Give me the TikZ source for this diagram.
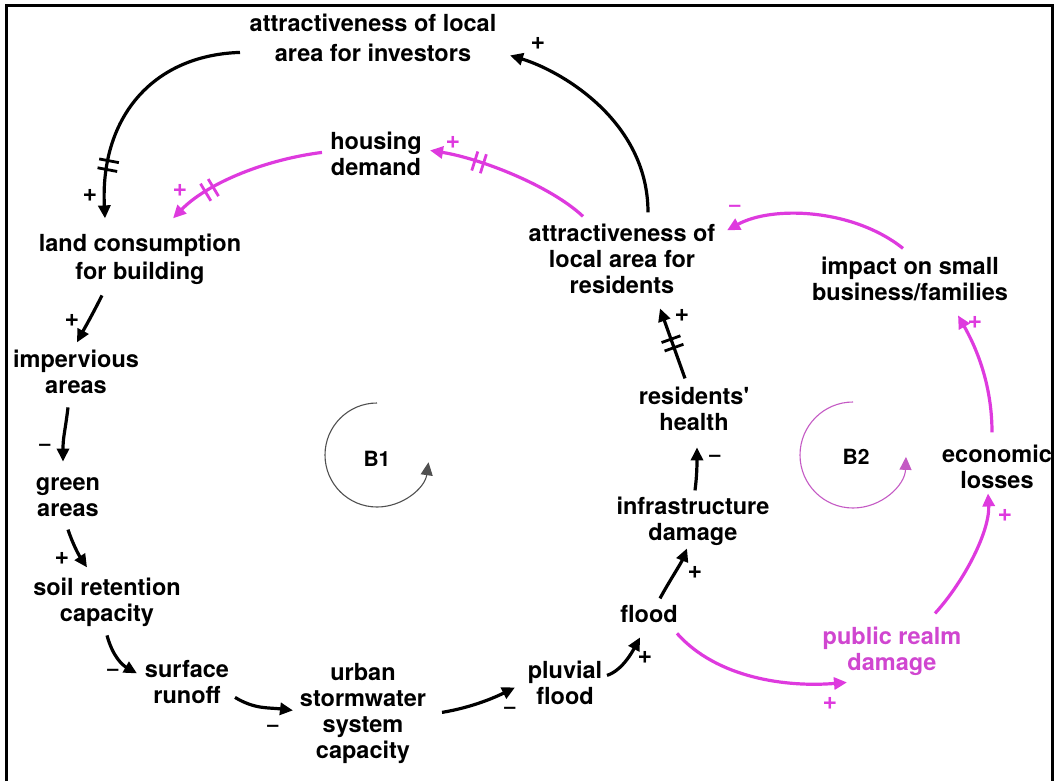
\documentclass[tikz,border=0pt]{standalone}
\usepackage{fontspec}
\setmainfont{TeX Gyre Heros}
\usetikzlibrary{arrows.meta,decorations.markings}
\definecolor{mag}{RGB}{222,58,222}
\definecolor{magtext}{RGB}{208,70,208}
\definecolor{loopgray}{RGB}{80,80,80}
\definecolor{loopmag}{RGB}{196,90,196}
\tikzset{
  var/.style={anchor=north, inner sep=0pt, align=center,
    font=\fontsize{23.5}{26}\selectfont\bfseries},
  sign/.style={inner sep=0pt, font=\fontsize{25}{25}\selectfont\bfseries},
  nsign/.style={inner sep=0pt, font=\fontsize{20}{20}\selectfont\bfseries},
  msign/.style={sign, text=mag},
  mnsign/.style={nsign, text=mag},
  link/.style={line width=3.2pt, -{Triangle[length=13pt,width=12pt]}},
  blink/.style={link, draw=black},
  mlink/.style={link, draw=mag},
  delay/.style 2 args={postaction={decorate, decoration={markings,
    mark=at position #1 with {\draw[line width=2.8pt,-,#2]
      (-4.5pt,-10pt)--(-4.5pt,10pt) (4.5pt,-10pt)--(4.5pt,10pt);}}}},
  loopline/.style={line width=1.1pt, -{Triangle[length=13pt,width=12pt]}},
  looplabel/.style={inner sep=0pt, font=\fontsize{21}{21}\selectfont\bfseries},
}
\begin{document}
\begin{tikzpicture}[x=1pt,y=-1pt]
\useasboundingbox (0,0) rectangle (1059,781);
% frame, open at the bottom
\draw[line width=3.5pt] (6.5,781) -- (6.5,5.5) -- (1052.5,5.5) -- (1052.5,781);

% variables
\node[var] (inv) at (373,13.4) {attractiveness of local\\[4pt]area for investors};
\node[var] (housing) at (376,131.4) {housing\\demand};
\node[var] (land) at (140,233.4) {land consumption\\[2pt]for building};
\node[var] (imperv) at (76,349.4) {impervious\\areas};
\node[var] (green) at (68,477.6) {green\\areas};
\node[var] (soil) at (107,577.4) {soil retention\\capacity};
\node[var] (surface) at (187,660.4) {surface\\runoff};
\node[var] (urban) at (363,663.4) {urban\\stormwater\\system\\capacity};
\node[var] (pluvial) at (565,660.4) {pluvial\\flood};
\node[var] (flood) at (649,605.4) {flood};
\node[var] (infra) at (693,496.4) {infrastructure\\damage};
\node[var] (health) at (694,386.4) {residents\textquotesingle\\health};
\node[var] (res) at (622,223.4) {attractiveness of\\local area for\\residents};
\node[var] (impact) at (910,256.4) {impact on small\\business/families};
\node[var] (econ) at (997,444.4) {economic\\losses};
\node[var, text=magtext] (public) at (892,626.4) {public realm\\damage};

% loop markers
\node[looplabel] (B1) at (377,459) {B1};
\node[looplabel] (B2) at (856,457) {B2};
\draw[loopline, draw=loopgray]
  ([shift={(0,-4)}]B1.center) ++(-90:52) arc[start angle=-90, end angle=-352, radius=52];
\draw[loopline, draw=loopmag]
  ([shift={(-3,-2)}]B2.center) ++(-90:53) arc[start angle=-90, end angle=-358, radius=53];

% B1 chain (black)
\draw[blink] ([shift={(26,-11)}]res.north) .. controls +(0,-92) and +(50,15) .. ([shift={(137,42)}]inv.north);
\node[sign] (s1) at (538,43) {+};
\draw[blink, delay={0.78}{black}] ([shift={(-133,39)}]inv.north) .. controls +(-90,3) and +(-5,-98) .. ([shift={(-35,-15)}]land.north);
\node[sign] (s2) at (90,195) {+};
\draw[blink] ([shift={(-38,62)}]land.north) .. controls +(-10,20) and +(8,-15) .. ([shift={(1,-7)}]imperv.north);
\node[sign] (s5) at (72,320) {+};
\draw[blink] ([shift={(-8,58)}]imperv.north) .. controls +(-3,25) and +(0,-25) .. ([shift={(-5,-16)}]green.north);
\node[nsign] (s6) at (45,447) {–};
\draw[blink] ([shift={(0,52)}]green.north) .. controls +(5,15) and +(-8,-12) .. ([shift={(-20,-10)}]soil.north);
\node[sign] (s7) at (62,558) {+};
\draw[blink] ([shift={(0,58)}]soil.north) .. controls +(6,22) and +(-14,-8) .. ([shift={(-50,13)}]surface.north);
\node[nsign] (s8) at (113,672) {–};
\draw[blink] ([shift={(48,37)}]surface.north) .. controls +(20,12) and +(-25,-3) .. ([shift={(-70,47)}]urban.north);
\node[nsign] (s9) at (273,728) {–};
\draw[blink] ([shift={(79,49)}]urban.north) .. controls +(30,-5) and +(-20,10) .. ([shift={(-50,27)}]pluvial.north);
\node[nsign] (s10) at (510,710) {–};
\draw[blink] ([shift={(42,15)}]pluvial.north) .. controls +(15,-5) and +(-8,15) .. ([shift={(-9,32)}]flood.north);
\node[sign] (s11) at (645,657) {+};
\draw[blink] ([shift={(11,-7)}]flood.north) .. controls +(8,-15) and +(-6,15) .. ([shift={(-6,52)}]infra.north);
\node[sign] (s12) at (695,572) {+};
\draw[blink] ([shift={(2,-6)}]infra.north) .. controls +(2,-15) and +(0,15) .. ([shift={(3,61)}]health.north);
\node[nsign] (s13) at (715,458) {–};
\draw[blink, delay={0.5}{black}] ([shift={(-9,-8)}]health.north) -- ([shift={(38,85)}]res.north);
\node[sign] (s14) at (682,315) {+};

% magenta links
\draw[mlink, delay={0.7}{mag}] ([shift={(-39,-7)}]res.north) .. controls +(-33,-31) and +(50,8) .. ([shift={(54,19)}]housing.north);
\node[msign] (s3) at (453,142) {+};
\draw[mlink, delay={0.72}{mag}] ([shift={(-54,21)}]housing.north) .. controls +(-62,8) and +(32,-33) .. ([shift={(33,-15)}]land.north);
\node[msign] (s4) at (180,190) {+};
\draw[mlink] ([shift={(28,28)}]flood.north) .. controls +(40,45) and +(-60,5) .. ([shift={(-45,56)}]public.north);
\node[msign] (s15) at (830,703) {+};
\draw[mlink] ([shift={(43,-13)}]public.north) .. controls +(30,-33) and +(2,37) .. ([shift={(-9,49)}]econ.north);
\node[msign] (s16) at (1005,515) {+};
\draw[mlink] ([shift={(-5,-12)}]econ.north) .. controls +(0,-50) and +(17,30) .. ([shift={(48,59)}]impact.north);
\node[msign] (s17) at (975,322) {+};
\draw[mlink] ([shift={(-7,-8)}]impact.north) .. controls +(-50,-40) and +(45,-25) .. ([shift={(105,7)}]res.north);
\node[mnsign] (s18) at (735,208) {–};
\end{tikzpicture}
\end{document}
